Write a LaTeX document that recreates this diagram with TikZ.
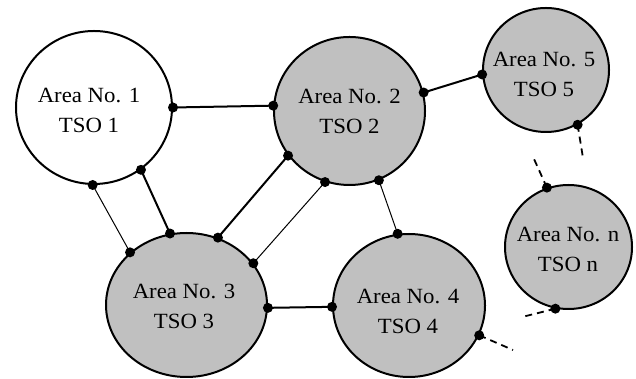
\documentclass[tikz,border=0pt]{standalone}
\usepackage{fontspec}
\setmainfont[FakeStretch=1.05]{Liberation Serif}
\usetikzlibrary{shapes.geometric}
\definecolor{areagray}{RGB}{192,192,192}
\tikzset{
  area/.style={ellipse, draw=black, line width=2pt, inner sep=0pt},
  grayarea/.style={area, fill=areagray},
  whitearea/.style={area, fill=white},
  lbl/.style={align=center, inner sep=0pt, font=\fontsize{21.7}{30}\selectfont},
  thicklink/.style={line width=2pt},
  thinlink/.style={line width=1pt},
  dashlink/.style={line width=1.8pt, dash pattern=on 7pt off 5pt},
  dotmark/.style={fill=black},
}
\begin{document}
\begin{tikzpicture}[x=1pt,y=1pt]
\useasboundingbox (0,0) rectangle (636,379);
% areas
\node[whitearea, minimum width=156, minimum height=153] (c1) at (94,271.5) {};
\node[grayarea, minimum width=151, minimum height=148] (c2) at (349.5,268) {};
\node[grayarea, minimum width=126, minimum height=124] (c5) at (546,309) {};
\node[grayarea, minimum width=161, minimum height=144] (c3) at (186.5,74) {};
\node[grayarea, minimum width=152, minimum height=143] (c4) at (409,73.5) {};
\node[grayarea, minimum width=127, minimum height=124] (cn) at (568.5,132) {};
% labels
\node[lbl] (t1) at (89,268.5) {Area No. 1\\TSO 1};
\node[lbl] (t2) at (349.5,267.5) {Area No. 2\\TSO 2};
\node[lbl] (t5) at (544,305) {Area No. 5\\TSO 5};
\node[lbl] (t3) at (184,72.5) {Area No. 3\\TSO 3};
\node[lbl] (t4) at (408,68) {Area No. 4\\TSO 4};
\node[lbl] (tn) at (568,130) {Area No. n\\TSO n};
% free ends
\coordinate (e5) at (583,221);
\coordinate (en1) at (534,220);
\coordinate (en2) at (522,62);
\coordinate (e4) at (513,29);
% links
\draw[thicklink] (c1.0) -- (c2.176);
\draw[thinlink] (c1.269) -- (c3.137);
\draw[thicklink] (c1.307) -- (c3.103);
\draw[thicklink] (c3.65) -- (c2.216);
\draw[thinlink] (c3.32) -- (c2.251);
\draw[thicklink] (c3.358) -- (c4.181);
\draw[thinlink] (c2.293) -- (c4.99);
\draw[thicklink] (c2.14) -- (c5.184);
\draw[dashlink] (c5.300) -- (e5);
\draw[dashlink] (cn.110) -- (en1);
\draw[dashlink] (cn.258) -- (en2);
\draw[dashlink] (c4.337) -- (e4);
% connection points
\foreach \p in {c1.0,c1.269,c1.307,c2.176,c2.216,c2.251,c2.293,c2.14,
                c3.137,c3.103,c3.65,c3.32,c3.358,c4.181,c4.99,c4.337,
                c5.184,c5.300,cn.110,cn.258}
  \fill[dotmark] (\p) circle (5);
\end{tikzpicture}
\end{document}
